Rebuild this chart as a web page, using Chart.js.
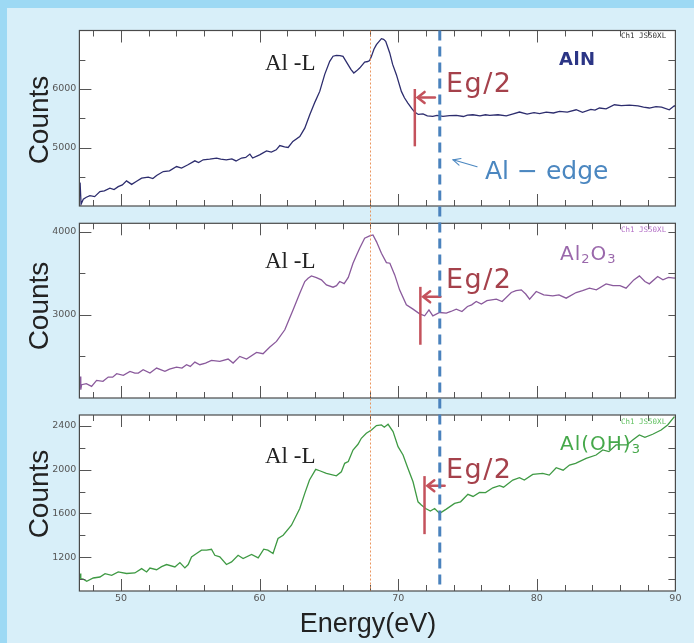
<!DOCTYPE html>
<html><head><meta charset="utf-8">
<script src="https://cdn.jsdelivr.net/npm/chart.js@4.4.1/dist/chart.umd.min.js"></script>
<style>
html,body{margin:0;padding:0;}
body{width:694px;height:643px;position:relative;overflow:hidden;background:#d8eff9;font-family:"Liberation Sans",sans-serif;}
#frameTop{position:absolute;left:0;top:0;width:694px;height:8px;background:#9dd9f4;}
#frameLeft{position:absolute;left:0;top:0;width:7px;height:643px;background:#9dd9f4;}
canvas{position:absolute;left:0;top:0;}
.t{position:absolute;white-space:nowrap;line-height:1;z-index:5;}
.serif{font-family:"Liberation Serif",serif;font-size:23px;color:#222;left:265px;}
.eg{font-family:"DejaVu Sans",sans-serif;font-size:27px;letter-spacing:1.5px;color:#a5414b;left:446px;}
.ch{font-family:"DejaVu Sans Mono",monospace;font-size:7.5px;left:621px;}
.counts{font-family:"Liberation Sans",sans-serif;font-size:28px;color:#222;transform:translate(-50%,-50%) rotate(-90deg);left:39px;}
.smp{font-family:"DejaVu Sans",sans-serif;font-size:20px;left:560px;letter-spacing:1px;}
.smp sub{font-size:13px;vertical-align:-3px;line-height:0;}
</style>
</head>
<body>
<div id="frameTop"></div><div id="frameLeft"></div>
<canvas id="c1" width="694" height="643"></canvas>
<canvas id="c2" width="694" height="643"></canvas>
<canvas id="c3" width="694" height="643"></canvas>

<div class="t counts" style="top:120px;">Counts</div>
<div class="t counts" style="top:306px;">Counts</div>
<div class="t counts" style="top:494px;">Counts</div>
<div class="t" style="left:368px;top:610px;transform:translateX(-50%);font-size:27px;color:#222;">Energy(eV)</div>

<div class="t serif" style="top:51px;">Al -L</div>
<div class="t serif" style="top:249px;">Al -L</div>
<div class="t serif" style="top:444px;">Al -L</div>

<div class="t eg" style="top:68.5px;">Eg/2</div>
<div class="t eg" style="top:265px;">Eg/2</div>
<div class="t eg" style="top:455px;">Eg/2</div>

<div class="t" style="left:485px;top:158px;font-family:'DejaVu Sans',sans-serif;font-size:25px;color:#4b87c0;">Al − edge</div>

<div class="t" style="left:559px;top:49.5px;font-family:'DejaVu Sans',sans-serif;font-weight:bold;font-size:18px;letter-spacing:0.5px;color:#2b3585;">AlN</div>
<div class="t smp" style="top:242.5px;color:#9a68ab;">Al<sub>2</sub>O<sub>3</sub></div>
<div class="t smp" style="top:432.5px;color:#45a84a;">Al(OH)<sub>3</sub></div>

<div class="t ch" style="top:32px;color:#333;">Ch1 JS50XL</div>
<div class="t ch" style="top:225.5px;color:#b36fc6;">Ch1 JS50XL</div>
<div class="t ch" style="top:417.5px;color:#62c262;">Ch1 JS50XL</div>

<script>
// ---------------- DATA ----------------
const energyAlN = [47.05,47.12,47.28,47.5,47.76,48.1,48.48,48.8,49.2,49.5,49.8,50.1,50.4,50.77,51.1,51.49,51.97,52.3,52.57,53.05,53.5,54.01,54.37,54.8,55.33,55.6,55.93,56.4,56.9,57.2,57.6,58.0,58.3,58.7,59.0,59.3,59.5,60.0,60.5,60.85,61.2,61.46,61.8,62.06,62.4,62.9,63.26,63.62,64.0,64.34,64.7,65.06,65.3,65.54,65.8,66.02,66.38,66.6,66.8,67.0,67.22,67.58,67.8,67.94,68.07,68.25,68.43,68.79,68.95,69.1,69.39,69.6,69.87,70.23,70.45,70.7,71.0,71.19,71.45,71.79,72.1,72.5,72.8,73.23,73.7,74.19,74.7,75.0,75.39,75.9,76.3,76.6,77.2,77.8,78.3,78.75,79.3,79.8,80.2,80.68,81.2,81.64,82.2,82.84,83.3,83.9,84.2,84.52,85.0,85.6,86.1,86.68,87.3,87.7,88.12,88.6,89.0,89.56,89.92,90];
const countsAlN = [4400,4030,4117,4150,4178,4160,4247,4260,4305,4280,4330,4360,4430,4370,4420,4476,4495,4470,4521,4589,4600,4675,4648,4700,4772,4743,4790,4800,4818,4800,4790,4805,4770,4820,4830,4887,4820,4875,4943,4920,4960,5034,5010,5000,5103,5188,5330,5560,5780,5959,6250,6472,6560,6575,6570,6558,6416,6330,6273,6310,6358,6461,6470,6485,6558,6680,6759,6861,6850,6815,6616,6420,6245,5959,5850,5760,5660,5606,5565,5575,5540,5531,5550,5531,5545,5548,5530,5555,5560,5540,5560,5548,5560,5540,5575,5606,5570,5595,5580,5606,5590,5616,5605,5645,5600,5650,5640,5675,5660,5731,5715,5726,5710,5690,5675,5700,5690,5645,5714,5700];

const energyAl2O3 = [47.05,47.1,47.16,47.5,47.88,48.24,48.7,49.08,49.4,49.69,50.17,50.65,51.0,51.25,51.6,52.09,52.57,53.17,53.5,54.01,54.4,54.73,55.0,55.33,55.69,56.1,56.53,57.13,57.73,58.09,58.57,59.06,59.78,60.25,60.74,61.22,61.82,62.42,62.9,63.26,63.5,63.74,64.1,64.46,64.82,65.3,65.55,65.78,66.1,66.4,66.74,67.0,67.22,67.58,67.94,68.18,68.43,68.79,69.15,69.4,69.75,70.1,70.59,71.07,71.55,71.91,72.22,72.5,72.99,73.47,73.8,74.19,74.6,75.0,75.3,75.63,76.0,76.4,77.08,77.5,78.16,78.5,78.88,79.2,79.48,79.96,80.5,81.15,81.6,82.12,82.84,83.3,83.8,84.3,85.0,85.5,86.0,86.44,87.0,87.4,87.8,88.12,88.72,89.1,89.5,89.92,90];
const countsAl2O3 = [2259,2100,2160,2172,2140,2211,2200,2252,2250,2292,2272,2320,2300,2300,2340,2300,2360,2320,2348,2372,2360,2400,2380,2432,2400,2420,2452,2440,2468,2420,2500,2468,2548,2532,2612,2680,2820,3060,3260,3400,3440,3468,3448,3420,3360,3332,3350,3400,3375,3450,3620,3720,3800,3920,3948,3960,3880,3740,3628,3620,3480,3300,3120,3068,3012,2988,3060,2988,3028,3020,3040,3068,3040,3100,3120,3160,3130,3170,3188,3160,3268,3290,3300,3250,3188,3280,3240,3228,3240,3200,3268,3290,3320,3300,3372,3350,3350,3320,3420,3468,3400,3372,3460,3420,3450,3440,3445];

const energyAlOH3 = [47.05,47.1,47.28,47.53,48.0,48.48,48.85,49.33,49.8,50.4,51.0,51.49,51.85,52.09,52.57,52.93,53.29,53.89,54.25,54.61,54.85,55.09,55.45,55.81,56.17,56.53,56.77,57.13,57.61,57.98,58.45,58.81,59.42,59.9,60.3,60.6,60.97,61.33,61.7,62.3,62.9,63.26,63.6,64.05,64.34,64.82,65.54,65.9,66.14,66.4,66.74,67.1,67.34,67.7,68.07,68.43,68.79,69.0,69.27,69.63,69.99,70.35,70.7,71.07,71.43,71.67,71.98,72.32,72.63,72.99,73.47,74.07,74.5,75.03,75.4,75.87,76.3,76.83,77.31,77.6,78.27,78.75,79.1,79.71,80.43,80.9,81.4,81.9,82.36,82.8,83.56,84.28,84.76,85.2,85.72,86.5,86.92,87.4,87.8,88.36,88.97,89.44,89.93];
const countsAlOH3 = [1049,1003,999,979,1009,1018,1049,1034,1064,1050,1055,1095,1064,1100,1085,1113,1132,1110,1150,1101,1132,1202,1233,1263,1263,1272,1217,1202,1132,1156,1217,1187,1224,1193,1272,1263,1233,1370,1400,1492,1645,1783,1905,2003,1990,1966,1944,1981,2058,2075,2180,2232,2287,2333,2363,2403,2409,2388,2415,2348,2210,2134,2012,1889,1706,1676,1645,1621,1645,1600,1639,1691,1706,1774,1755,1792,1790,1834,1853,1840,1905,1926,1905,1957,1966,1950,2018,1995,2042,2058,2104,2134,2180,2165,2226,2226,2272,2317,2295,2324,2363,2409,2485];

// tick marks and tick labels
const xTicks = [48,50,52,54,56,58,60,62,64,66,68,70,72,74,76,78,80,82,84,86,88];
const xTickLabels = [50, 60, 70, 80, 90];
const yTicksAlN = [4500, 5000, 5500, 6000, 6500];
const yTicksAl2O3 = [2500, 3000, 3500, 4000];
const yTicksAlOH3 = [1000, 1200, 1400, 1600, 1800, 2000, 2200, 2400];
const yTickLabelsAlN = [5000, 6000];
const yTickLabelsAl2O3 = [3000, 4000];
const yTickLabelsAlOH3 = [1200, 1600, 2000, 2400];

// annotation values (energy in eV, counts)
const alLEnergy = 68.0;
const alEdgeEnergy = 73.0;
const egEnergy = [71.2, 71.6, 71.9];
const egLow = [5020, 2640, 1410];
const egHigh = [6000, 3336, 1941];
const egArrowCounts = [5856, 3216, 1853];
const alEdgeArrowFrom = {x: 75.69, y: 4670};
const alEdgeArrowTo = {x: 73.96, y: 4789};

// ---------------- DRAW ----------------
const charts = [];
function line(ctx, x1, y1, x2, y2) { ctx.beginPath(); ctx.moveTo(x1, y1); ctx.lineTo(x2, y2); ctx.stroke(); }

function makePanel(id, idx, energy, counts, color, yMin, yMax, yTicks, majorStep, yLabels, top, bottom, showX) {
  const pts = energy.map((e, i) => ({x: e, y: counts[i]}));
  const deco = {
    id: 'deco' + idx,
    beforeDraw(chart) {
      const a = chart.chartArea, ctx = chart.ctx;
      ctx.save(); ctx.fillStyle = '#ffffff';
      ctx.fillRect(a.left, a.top, a.right - a.left, a.bottom - a.top); ctx.restore();
    },
    afterDatasetsDraw(chart) {
      const ctx = chart.ctx, xs = chart.scales.x, ys = chart.scales.y;
      ctx.save();
      const ex = xs.getPixelForValue(egEnergy[idx]);
      ctx.strokeStyle = '#c4525c'; ctx.lineWidth = 2.5;
      line(ctx, ex, ys.getPixelForValue(egLow[idx]), ex, ys.getPixelForValue(egHigh[idx]));
      const ay = ys.getPixelForValue(egArrowCounts[idx]);
      const ax1 = xs.getPixelForValue(egEnergy[idx] + 0.2), ax2 = xs.getPixelForValue(egEnergy[idx] + 1.45);
      ctx.lineWidth = 2.5; ctx.lineCap = 'round';
      line(ctx, ax1 + 1, ay, ax2, ay);
      ctx.beginPath(); ctx.moveTo(ax1 + 7, ay - 5.5); ctx.lineTo(ax1, ay); ctx.lineTo(ax1 + 7, ay + 5.5); ctx.stroke();
      if (idx === 0) {
        const fx = xs.getPixelForValue(alEdgeArrowFrom.x), fy = ys.getPixelForValue(alEdgeArrowFrom.y);
        const tx = xs.getPixelForValue(alEdgeArrowTo.x), ty = ys.getPixelForValue(alEdgeArrowTo.y);
        ctx.strokeStyle = '#4b87c0'; ctx.lineWidth = 1.1;
        line(ctx, fx, fy, tx, ty);
        const ang = Math.atan2(fy - ty, fx - tx);
        ctx.beginPath();
        ctx.moveTo(tx + 8 * Math.cos(ang - 0.45), ty + 8 * Math.sin(ang - 0.45));
        ctx.lineTo(tx, ty);
        ctx.lineTo(tx + 8 * Math.cos(ang + 0.45), ty + 8 * Math.sin(ang + 0.45));
        ctx.stroke();
      }
      ctx.restore();
    },
    afterDraw(chart) {
      const a = chart.chartArea, ctx = chart.ctx, xs = chart.scales.x, ys = chart.scales.y;
      ctx.save();
      ctx.strokeStyle = '#555'; ctx.lineWidth = 1;
      xTicks.forEach(v => {
        const px = Math.round(xs.getPixelForValue(v)) + 0.5;
        const len = (v % 10 === 0) ? 12 : 6;
        line(ctx, px, a.top, px, a.top + len);
        line(ctx, px, a.bottom, px, a.bottom - len);
      });
      yTicks.forEach(v => {
        const py = Math.round(ys.getPixelForValue(v)) + 0.5;
        const len = (v % majorStep === 0) ? 12 : 6;
        line(ctx, a.left, py, a.left + len, py);
        line(ctx, a.right, py, a.right - 7, py);
      });
      ctx.fillStyle = '#555'; ctx.font = '9.5px "DejaVu Sans"';
      ctx.textAlign = 'right'; ctx.textBaseline = 'middle';
      yLabels.forEach(v => { ctx.fillText(String(v), a.left - 3, ys.getPixelForValue(v)); });
      ctx.lineWidth = 1.2; ctx.strokeStyle = '#4a4a4a';
      ctx.strokeRect(a.left, a.top, a.right - a.left, a.bottom - a.top);
      if (idx === 2) {
        const topY = charts[0].chartArea.top, botY = a.bottom;
        const lx = xs.getPixelForValue(alLEnergy);
        ctx.strokeStyle = '#e88a4c'; ctx.lineWidth = 0.9; ctx.setLineDash([2, 2]);
        line(ctx, lx, topY, lx, botY);
        const bx = xs.getPixelForValue(alEdgeEnergy);
        ctx.strokeStyle = '#4a82bd'; ctx.lineWidth = 3; ctx.setLineDash([10, 6]);
        line(ctx, bx, topY, bx, botY - 2);
      }
      ctx.restore();
    }
  };
  const xScale = {
    type: 'linear', min: 47, max: 90, display: true,
    grid: {display: false, drawTicks: false}, border: {display: false},
    ticks: {display: showX, stepSize: 2, autoSkip: false, maxRotation: 0, padding: 2,
      color: '#555', font: {family: 'DejaVu Sans', size: 9.5},
      callback: v => xTickLabels.includes(v) ? String(v) : ''},
    afterFit: s => { s.height = showX ? 14 : 0; }
  };
  const chart = new Chart(document.getElementById(id), {
    type: 'line',
    data: {datasets: [{data: pts, borderColor: color, borderWidth: 1.3, pointRadius: 0, tension: 0, fill: false}]},
    options: {
      responsive: false, animation: false, devicePixelRatio: 1,
      layout: {padding: {left: 0, right: 18.6, top: top, bottom: showX ? 643 - bottom - 14 : 643 - bottom}},
      plugins: {legend: {display: false}, tooltip: {enabled: false}},
      scales: {
        x: xScale,
        y: {type: 'linear', min: yMin, max: yMax,
          grid: {display: false, drawTicks: false}, border: {display: false},
          ticks: {display: false},
          afterFit: s => { s.width = 79.4; }}
      }
    },
    plugins: [deco]
  });
  charts.push(chart);
  return chart;
}

makePanel('c1', 0, energyAlN, countsAlN, '#2d2d6e', 4000, 7000, yTicksAlN, 1000, yTickLabelsAlN, 30.5, 206, false);
makePanel('c2', 1, energyAl2O3, countsAl2O3, '#8a5a9c', 2000, 4100, yTicksAl2O3, 1000, yTickLabelsAl2O3, 223.3, 398, false);
makePanel('c3', 2, energyAlOH3, countsAlOH3, '#3f9a44', 890, 2500, yTicksAlOH3, 400, yTickLabelsAlOH3, 415, 591, true);
</script>
</body></html>
